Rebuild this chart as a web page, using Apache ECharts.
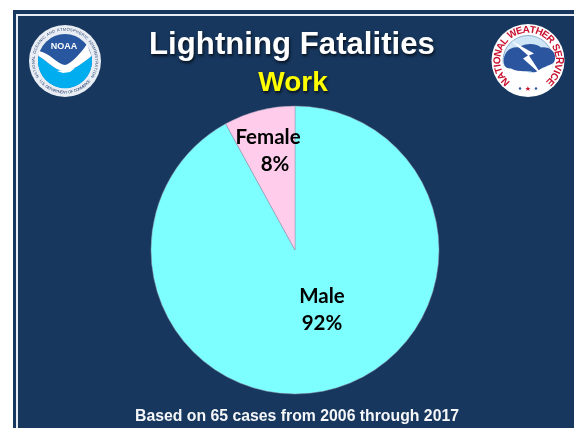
<!DOCTYPE html>
<html><head><meta charset="utf-8">
<style>html,body{margin:0;padding:0;background:#fff}#c{width:574px;height:428px}</style>
<script src="https://cdn.jsdelivr.net/npm/echarts@6/dist/echarts.min.js"></script>
</head><body><div id="c"></div>
<script>
const categories = ['Male', 'Female'];
const values = [92, 8];
const colors = ['#7DFFFF', '#FFCCEC'];
const titleText = 'Lightning Fatalities';
const subtitleText = 'Work';
const footerText = 'Based on 65 cases from 2006 through 2017';
const NAVY = '#17375E';

const measure = document.createElement('canvas').getContext('2d');
function ring(text, cx, cy, r, startDeg, endDeg, style, z) {
  measure.font = style.font;
  const widths = Array.from(text).map(ch => measure.measureText(ch).width + 0.6);
  const total = widths.reduce((s, w) => s + w, 0);
  const bottom = endDeg < startDeg;
  let run = 0;
  return Array.from(text).map((ch, i) => {
    const frac = (run + widths[i] / 2) / total;
    run += widths[i];
    const a = (startDeg + (endDeg - startDeg) * frac) * Math.PI / 180;
    return {
      type: 'text', z: z, x: cx + r * Math.sin(a), y: cy - r * Math.cos(a),
      rotation: bottom ? Math.PI - a : -a,
      style: Object.assign({ text: ch, align: 'center', verticalAlign: 'middle' }, style)
    };
  });
}
let shapeId = 0;
function raw(d, cx, cy, style, z) {
  const name = 'emblemShape' + (shapeId++);
  echarts.graphic.registerShape(name, echarts.graphic.extendPath(d, {}));
  return { type: name, z: z, x: cx, y: cy, style: style };
}
function circle(cx, cy, r, style, z) {
  return { type: 'circle', z: z, shape: { cx: cx, cy: cy, r: r }, style: style };
}

const nx = 65, ny = 61, wx = 528, wy = 60.5;
const elements = [
  { type: 'rect', z: -10, shape: { x: 13, y: 10, width: 561, height: 418 }, style: { fill: NAVY } },
  { type: 'rect', z: -9, shape: { x: 17, y: 15, width: 600, height: 500 }, style: { fill: 'none', stroke: '#E8EDF3', lineWidth: 2 } },
  // NOAA emblem
  circle(nx, ny, 36, { fill: '#E9EEF5' }, 5),
  circle(nx, ny, 27, { fill: '#28569F' }, 6),
  raw('M-26.5,-5 C-18,0 -10,9 -2,10 C8,10 18,2 26.5,-5 A27,27 0 1 1 -26.5,-5 Z', nx, ny, { fill: '#00AEEF' }, 7),
  raw('M-26,-10 C-15,-8 -8,3 0,4 C6,3 16,-8 22,-17 L26.5,-5 C18,2 8,10 -2,10 C-10,9 -18,0 -26.5,-5 Z', nx, ny, { fill: '#FFFFFF' }, 8),
  raw('M-8,10 L10,7 L5,11 L-2,12 Z', nx, ny, { fill: '#FFFFFF' }, 8),
  { type: 'text', z: 9, x: nx - 1, y: ny - 14, style: { text: 'NOAA', fill: '#FFFFFF', font: 'bold 9px "Liberation Sans"', align: 'center', verticalAlign: 'middle' } },
  // NWS emblem
  circle(wx, wy, 36.5, { fill: '#FFFFFF' }, 5),
  circle(wx, wy, 25, { fill: '#CFE6F6', stroke: '#6D8FB8', lineWidth: 0.7 }, 6),
  raw('M-25,3 C-12,10 -4,8 2,13 C10,9 18,8 25,2 A25,25 0 0 1 -25,3 Z', wx, wy, { fill: '#FFFFFF' }, 7),
  raw('M-24,3 C-26,-8 -17,-15 -9,-13 C-2,-18 9,-17 13,-13 C21,-14 28,-9 27,-2 C27,4 21,4 18,6 C11,8 8,14 3,11 C-5,10 -10,12 -17,8 C-20,8 -24,7 -24,3 Z', wx, wy, { fill: '#2C55A0' }, 8),
  raw('M-17,-20 L6,-7 L1,-5 L14,15 L-5,-2 L0,-5 Z', wx, wy, { fill: '#FFFFFF' }, 9),
  { type: 'text', z: 9, x: wx, y: wy + 29, style: { text: '★', fill: '#C8102E', font: '7px "DejaVu Sans"', align: 'center', verticalAlign: 'middle' } },
  circle(wx - 8, wy + 28, 1.2, { fill: '#2C55A0' }, 9),
  circle(wx + 8, wy + 28, 1.2, { fill: '#2C55A0' }, 9)
].concat(
  ring('NATIONAL OCEANIC AND ATMOSPHERIC ADMINISTRATION', nx, ny, 31.5, -122, 122, { fill: '#28406E', font: '4px "Liberation Sans"' }, 7),
  ring('U.S. DEPARTMENT OF COMMERCE', nx, ny, 31.5, -128 + 360, 128, { fill: '#28406E', font: '4px "Liberation Sans"' }, 7),
  ring('NATIONAL WEATHER SERVICE', wx, wy, 30.5, -140, 140, { fill: '#C8102E', font: 'bold 10px "Liberation Sans"' }, 7)
);

const chart = echarts.init(document.getElementById('c'), null, { renderer: 'canvas' });
const labelPos = [[322, 310], [268, 151]];
chart.setOption({
  animation: false,
  backgroundColor: '#FFFFFF',
  title: [
    { text: titleText, left: 287, top: 25, textAlign: 'center', textStyle: { color: '#FFFFFF', fontFamily: 'Liberation Sans', fontWeight: 'bold', fontSize: 31.2, textShadowColor: 'rgba(0,0,0,0.7)', textShadowBlur: 3, textShadowOffsetX: 1, textShadowOffsetY: 2 } },
    { text: subtitleText, left: 288, top: 64, textAlign: 'center', textStyle: { color: '#FFFF00', fontFamily: 'Liberation Sans', fontWeight: 'bold', fontSize: 28, textShadowColor: 'rgba(0,0,0,0.7)', textShadowBlur: 3, textShadowOffsetX: 1, textShadowOffsetY: 2 } },
    { text: footerText, left: 292, top: 404, textAlign: 'center', textStyle: { color: '#F4F6F8', fontFamily: 'Liberation Sans', fontWeight: 'bold', fontSize: 15.8 } }
  ],
  graphic: { elements: elements },
  series: [{
    type: 'pie', z: 3,
    center: [295, 250], radius: 144, startAngle: 90, clockwise: true,
    data: categories.map((c, i) => ({ name: c, value: values[i], itemStyle: { color: colors[i] } })),
    itemStyle: { borderColor: 'rgba(150,150,170,0.6)', borderWidth: 0.8 },
    label: {
      show: true, position: 'inside', color: '#000000',
      fontFamily: 'Lato', fontWeight: 'bold', fontSize: 20.5, lineHeight: 27,
      formatter: p => p.name === 'Female' ? p.name + '\n{s|' + p.value + '%}' : p.name + '\n' + p.value + '%',
      rich: { s: { color: '#000000', fontFamily: 'Lato', fontWeight: 'bold', fontSize: 20.5, lineHeight: 27, padding: [0, 0, 0, 14] } }
    },
    labelLine: { show: false },
    labelLayout: p => ({ x: labelPos[p.dataIndex][0], y: labelPos[p.dataIndex][1], align: 'center', verticalAlign: 'middle' }),
    emphasis: { disabled: true }, silent: true
  }]
});
</script></body></html>
